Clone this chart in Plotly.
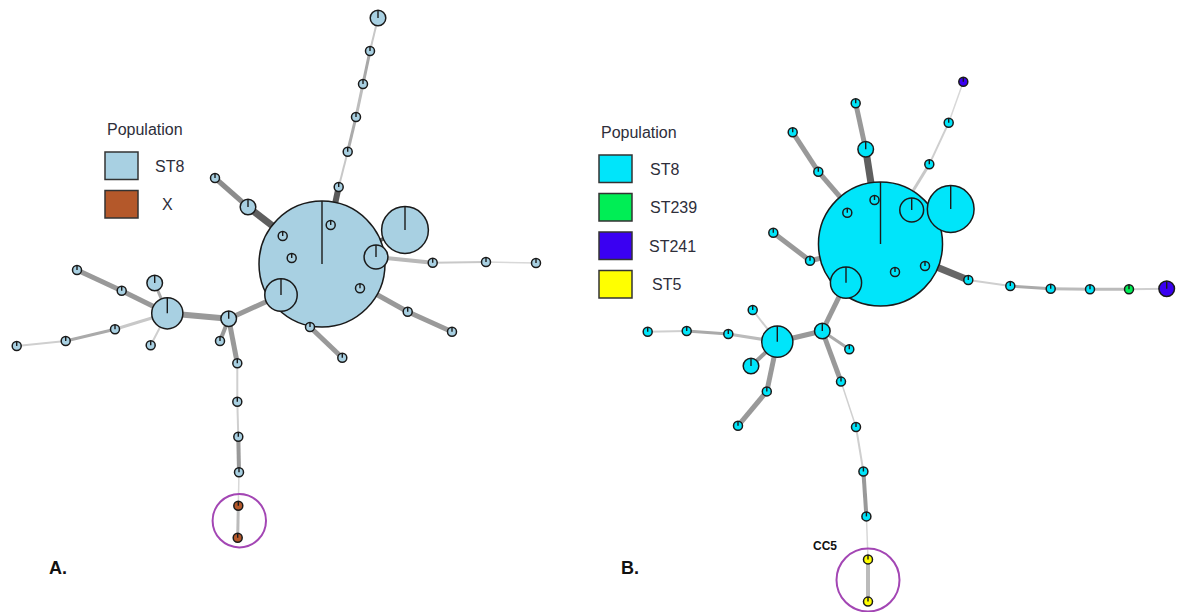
import math
import plotly.graph_objects as go

# ---------------- Panel A: minimum spanning tree, ST8 vs X ----------------
a_groups = ["ST8", "X"]
a_colors = {"ST8": "#a8d0e2", "X": "#b4582a"}

# node layout (screen units) and isolate counts
a_node_x = [322, 405, 376, 281, 338.7, 347.7, 356, 363, 370, 378, 248, 215, 432.7, 486, 536,
            407.7, 452, 310, 342.3, 228.7, 167.3, 154.7, 121.7, 77, 115, 65.7, 16.7, 150.7,
            220, 237.3, 237.3, 238.3, 239, 238.3, 237.7, 330.7, 282.7, 291.7, 360]
a_node_y = [264, 230, 257, 295, 187, 151.7, 117, 84, 51, 18, 207, 178, 262.7, 262, 263,
            311.7, 331.7, 327, 357.7, 318.7, 313.3, 283, 290.7, 270, 329.3, 341, 346, 345.3,
            341, 363.3, 401.7, 436.7, 472.3, 505.7, 537.7, 225, 236, 258, 288.3]
a_count = [196, 27, 7, 13, 1, 1, 1, 1, 1, 3, 3, 1, 1, 1, 1,
           1, 1, 1, 1, 3, 12, 3, 1, 1, 1, 1, 1, 1,
           1, 1, 1, 1, 1, 1, 1, 1, 1, 1, 1]
a_group = ["ST8"] * 33 + ["X", "X"] + ["ST8"] * 4

# edges: (from, to, line width, grey shade)
a_edges = [
    (0, 4, 6, "#5a5a5a"), (4, 5, 2, "#c8c8c8"), (5, 6, 3, "#ababab"), (6, 7, 3, "#bdbdbd"),
    (7, 8, 3, "#a8a8a8"), (8, 9, 2, "#c8c8c8"),
    (0, 10, 7, "#5f5f5f"), (10, 11, 5, "#8c8c8c"),
    (0, 1, 4, "#666666"), (0, 2, 4, "#666666"),
    (2, 12, 4, "#b8b8b8"), (12, 13, 2, "#c8c8c8"), (13, 14, 1.5, "#d8d8d8"),
    (0, 15, 5, "#999999"), (15, 16, 5, "#9a9a9a"),
    (0, 17, 4, "#999999"), (17, 18, 5, "#999999"),
    (0, 3, 4, "#999999"), (3, 19, 5, "#999999"), (19, 20, 6, "#999999"),
    (19, 28, 4, "#999999"), (19, 29, 5, "#999999"),
    (29, 30, 2, "#cfcfcf"), (30, 31, 2, "#cfcfcf"), (31, 32, 4, "#999999"),
    (32, 33, 1.5, "#d8d8d8"), (33, 34, 3, "#bbbbbb"),
    (20, 21, 3, "#aaaaaa"), (20, 22, 5, "#999999"), (22, 23, 5, "#999999"),
    (20, 24, 3, "#c8c8c8"), (24, 25, 3, "#aaaaaa"), (25, 26, 2, "#cfcfcf"),
    (20, 27, 2, "#cfcfcf"),
    (0, 35, 2, "#999999"), (0, 36, 2, "#999999"), (0, 37, 2, "#999999"), (0, 38, 2, "#999999"),
]

# ---------------- Panel B: minimum spanning tree, ST8 / ST239 / ST241 / ST5 ----------------
b_groups = ["ST8", "ST239", "ST241", "ST5"]
b_colors = {"ST8": "#00e5fa", "ST239": "#00ee55", "ST241": "#3a00f2", "ST5": "#ffff00"}

b_node_x = [880.5, 950.7, 911.7, 846, 865.7, 855.7, 818.3, 792.7, 929.3, 948.7, 963.3,
            810, 773.3, 968.3, 1010.3, 1050.7, 1090, 1129, 1166.7, 822.3, 777.3, 849.3,
            841, 856, 863.4, 866.4, 868, 868, 752.7, 728.3, 686.7, 647.7, 751, 766.8, 738,
            874.5, 847.3, 895, 925]
b_node_y = [244, 209, 210, 282.7, 149.3, 103.3, 171.7, 132.3, 164.3, 122.7, 81.7,
            260.7, 232.7, 280, 286, 288.7, 289.3, 289.3, 288.7, 331, 341.7, 349.3,
            381.6, 427, 471.5, 516.4, 559.4, 601.6, 310, 334, 331, 331.7, 366, 391.4, 425.8,
            200, 212.7, 272, 266]
b_count = [190, 27, 7, 12, 3, 1, 1, 1, 1, 1, 1,
           1, 1, 1, 1, 1, 1, 1, 3, 3, 12, 1,
           1, 1, 1, 1, 1, 1, 1, 1, 1, 1, 3, 1, 1,
           1, 1, 1, 1]
b_group = (["ST8"] * 10 + ["ST241"] + ["ST8"] * 6 + ["ST239", "ST241"] + ["ST8"] * 7
           + ["ST5", "ST5"] + ["ST8"] * 11)

b_edges = [
    (0, 4, 7, "#5f5f5f"), (4, 5, 5, "#999999"),
    (0, 6, 5, "#999999"), (6, 7, 5, "#999999"),
    (0, 8, 3, "#c8c8c8"), (8, 9, 2, "#cfcfcf"), (9, 10, 1.5, "#d8d8d8"),
    (0, 11, 5, "#999999"), (11, 12, 5, "#999999"),
    (0, 13, 7, "#666666"), (13, 14, 2, "#cfcfcf"), (14, 15, 3, "#aaaaaa"),
    (15, 16, 3, "#bbbbbb"), (16, 17, 3, "#bbbbbb"), (17, 18, 2, "#cfcfcf"),
    (0, 1, 4, "#666666"), (0, 2, 4, "#666666"), (0, 3, 4, "#999999"),
    (3, 19, 5, "#999999"), (19, 20, 5, "#999999"), (19, 21, 3, "#aaaaaa"),
    (19, 22, 5, "#999999"), (22, 23, 1.5, "#d0d0d0"), (23, 24, 2, "#cfcfcf"),
    (24, 25, 4, "#999999"), (25, 26, 1.5, "#d8d8d8"), (26, 27, 4, "#bbbbbb"),
    (20, 28, 2, "#cfcfcf"), (20, 29, 3, "#bbbbbb"), (29, 30, 3, "#aaaaaa"),
    (30, 31, 2, "#cfcfcf"), (20, 32, 4, "#999999"), (20, 33, 5, "#999999"),
    (33, 34, 5, "#999999"),
    (0, 35, 2, "#999999"), (0, 36, 2, "#999999"), (0, 37, 2, "#999999"), (0, 38, 2, "#999999"),
]

UNIT_RADIUS = 4.5  # radius of a single-isolate node; area scales with count
FONT = "Arial, Liberation Sans, sans-serif"

fig = go.Figure()


def add_tree(xs, ys, counts, groups, edges, colors):
    radii = [UNIT_RADIUS * math.sqrt(c) for c in counts]
    # links underneath the nodes
    for a, b, w, col in edges:
        fig.add_trace(go.Scatter(
            x=[xs[a], xs[b]], y=[ys[a], ys[b]], mode="lines",
            line=dict(color=col, width=w), hoverinfo="skip"))
    # nodes, largest first so smaller ones sit on top
    order = sorted(range(len(xs)), key=lambda i: -radii[i])
    fig.add_trace(go.Scatter(
        x=[xs[i] for i in order], y=[ys[i] for i in order], mode="markers",
        marker=dict(size=[2 * radii[i] for i in order],
                    color=[colors[groups[i]] for i in order],
                    line=dict(color="#1a1a1a", width=1.5), opacity=1),
        text=[f"{groups[i]} (n={counts[i]})" for i in order], hoverinfo="text"))
    # pie separator from each node centre to 12 o'clock
    tx, ty = [], []
    for i in order:
        tx += [xs[i], xs[i], None]
        ty += [ys[i], ys[i] - radii[i], None]
    fig.add_trace(go.Scatter(x=tx, y=ty, mode="lines",
                             line=dict(color="#1a1a1a", width=1.4), hoverinfo="skip"))


add_tree(a_node_x, a_node_y, a_count, a_group, a_edges, a_colors)
add_tree(b_node_x, b_node_y, b_count, b_group, b_edges, b_colors)

shapes, annotations = [], []


def add_key(x0, y0, groups, colors, label_dx):
    annotations.append(dict(x=x0, y=y0, text="Population", showarrow=False,
                            xanchor="left", yanchor="middle",
                            font=dict(family=FONT, size=16, color="#2e2e3a")))
    for k, g in enumerate(groups):
        top = y0 + 23 + k * 38.5
        shapes.append(dict(type="rect", x0=x0, x1=x0 + 33, y0=top, y1=top + 27.5,
                           fillcolor=colors[g], line=dict(color="#333333", width=1.5)))
        annotations.append(dict(x=x0 + label_dx[k], y=top + 14, text=g, showarrow=False,
                                xanchor="left", yanchor="middle",
                                font=dict(family=FONT, size=16, color="#2e2e3a")))


add_key(105, 129, a_groups, a_colors, [48, 55])
add_key(599, 132, b_groups, b_colors, [49, 49, 48, 51])

# highlighted clonal-complex clusters
shapes.append(dict(type="circle", x0=239.3 - 26.7, x1=239.3 + 26.7, y0=520.7 - 26.7,
                   y1=520.7 + 26.7, line=dict(color="#a346b4", width=2)))
shapes.append(dict(type="circle", x0=868 - 31.5, x1=868 + 31.5, y0=580 - 31.5,
                   y1=580 + 31.5, line=dict(color="#a346b4", width=2)))

annotations.append(dict(x=825, y=546, text="<b>CC5</b>", showarrow=False,
                        font=dict(family=FONT, size=12, color="#111111")))
annotations.append(dict(x=58, y=568, text="<b>A.</b>", showarrow=False,
                        font=dict(family=FONT, size=18, color="#111111")))
annotations.append(dict(x=630, y=568, text="<b>B.</b>", showarrow=False,
                        font=dict(family=FONT, size=18, color="#111111")))

fig.update_layout(
    width=1177, height=612, margin=dict(l=0, r=0, t=0, b=0),
    paper_bgcolor="white", plot_bgcolor="white", showlegend=False,
    xaxis=dict(range=[0, 1177], visible=False, fixedrange=True),
    yaxis=dict(range=[612, 0], visible=False, fixedrange=True),
    shapes=shapes, annotations=annotations,
)

fig.write_html("out.html")
